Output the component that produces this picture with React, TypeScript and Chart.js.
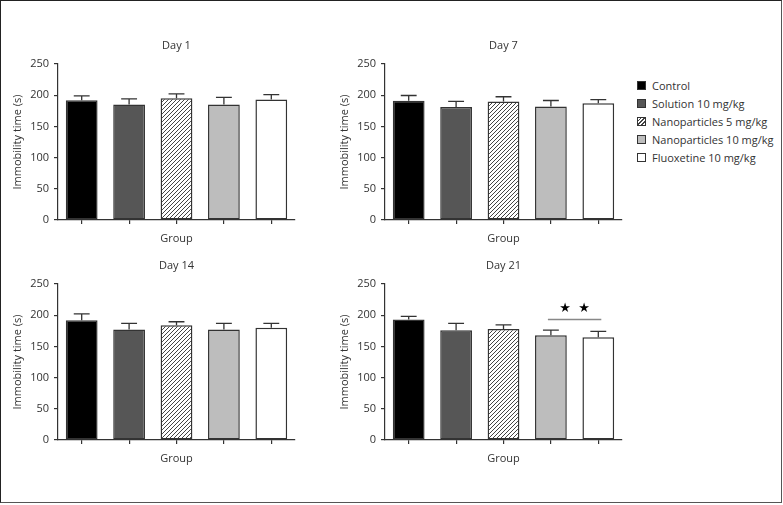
import React, { useEffect, useRef } from "react";
import { Chart, registerables } from "chart.js";

Chart.register(...registerables);

const groups = [
  "Control",
  "Solution 10 mg/kg",
  "Nanoparticles 5 mg/kg",
  "Nanoparticles 10 mg/kg",
  "Fluoxetine 10 mg/kg",
];

const yTicks = [0, 50, 100, 150, 200, 250];

const day1Means = [192, 185, 195, 185, 193];
const day1Err = [7, 9, 7, 11.5, 8];
const day7Means = [191, 181, 190, 182, 187];
const day7Err = [8.5, 9, 7.5, 9.5, 6];
const day14Means = [192, 177, 184, 177, 180];
const day14Err = [10, 10, 5.5, 10, 7];
const day21Means = [193, 176, 178, 168, 164.5];
const day21Err = [5, 11, 6.5, 8, 9.5];

// significance on Day 21 between groups index 3 and 4
const day21SigPair = [3, 4];
const day21SigLine = 193;
const day21SigStars = 211;

const FONT = "'Open Sans', 'Noto Sans', sans-serif";
const TEXT = "#333333";
const AXIS = "#333333";

function makeHatch(): CanvasPattern | string {
  const c = document.createElement("canvas");
  c.width = 4;
  c.height = 4;
  const g = c.getContext("2d");
  if (!g) return "#ffffff";
  g.fillStyle = "#ffffff";
  g.fillRect(0, 0, 4, 4);
  g.strokeStyle = "#444444";
  g.lineWidth = 1;
  g.beginPath();
  g.moveTo(0, 4);
  g.lineTo(4, 0);
  g.moveTo(-1, 1);
  g.lineTo(1, -1);
  g.moveTo(3, 5);
  g.lineTo(5, 3);
  g.stroke();
  const p = g.createPattern(c, "repeat");
  return p || "#ffffff";
}

type PanelProps = {
  title: string;
  means: number[];
  errs: number[];
  left: number;
  top: number;
  sig?: { pair: number[]; line: number; stars: number };
};

const CW = 310;
const CH = 222;

function Panel({ title, means, errs, left, top, sig }: PanelProps) {
  const ref = useRef<HTMLCanvasElement | null>(null);
  useEffect(() => {
    if (!ref.current) return;
    const hatch = makeHatch();
    const fills: any[] = ["#000000", "#565656", hatch, "#bdbdbd", "#ffffff"];

    const errorPlugin = {
      id: "errbars",
      afterDatasetsDraw(chart: any) {
        const ctx = chart.ctx;
        const meta = chart.getDatasetMeta(0);
        const ys = chart.scales.y;
        ctx.save();
        ctx.strokeStyle = AXIS;
        ctx.lineWidth = 1.3;
        meta.data.forEach((el: any, i: number) => {
          const yt = ys.getPixelForValue(means[i] + errs[i]);
          const yb = el.y;
          const hw = el.width / 4;
          ctx.beginPath();
          ctx.moveTo(el.x, yb);
          ctx.lineTo(el.x, yt);
          ctx.moveTo(el.x - hw, yt);
          ctx.lineTo(el.x + hw, yt);
          ctx.stroke();
        });
        if (sig) {
          const xs = chart.scales.x;
          const x1 = xs.getPixelForValue(sig.pair[0]) - 3;
          const x2 = xs.getPixelForValue(sig.pair[1]) + 3;
          const yl = ys.getPixelForValue(sig.line);
          ctx.strokeStyle = "#888888";
          ctx.lineWidth = 1.5;
          ctx.beginPath();
          ctx.moveTo(x1, yl);
          ctx.lineTo(x2, yl);
          ctx.stroke();
          const mid = (x1 + x2) / 2;
          const ysStar = ys.getPixelForValue(sig.stars);
          ctx.fillStyle = "#000000";
          ctx.font = "13px 'DejaVu Sans', sans-serif";
          ctx.textAlign = "center";
          ctx.textBaseline = "middle";
          ctx.fillText("\u2605", mid - 9.5, ysStar);
          ctx.fillText("\u2605", mid + 9.5, ysStar);
        }
        ctx.restore();
      },
      afterDraw(chart: any) {
        const ctx = chart.ctx;
        const a = chart.chartArea;
        ctx.save();
        ctx.fillStyle = TEXT;
        ctx.font = "11px " + FONT;
        ctx.textAlign = "center";
        ctx.textBaseline = "middle";
        ctx.fillText(title, (a.left + a.right) / 2, a.top - 18);
        ctx.restore();
      },
    };

    const chart = new Chart(ref.current, {
      type: "bar",
      data: {
        labels: groups,
        datasets: [
          {
            data: means,
            backgroundColor: fills,
            borderColor: AXIS,
            borderWidth: 1.5,
            borderSkipped: false,
            barPercentage: 0.67,
            categoryPercentage: 1,
          },
        ],
      },
      options: {
        responsive: false,
        animation: false,
        layout: { padding: { top: 36, right: 15, left: 0, bottom: 0 } },
        plugins: {
          legend: { display: false },
          tooltip: { enabled: false },
          title: { display: false },
        },
        scales: {
          x: {
            type: "category",
            grid: {
              display: true,
              drawOnChartArea: false,
              offset: false,
              tickLength: 4,
              color: AXIS,
              lineWidth: 1.2,
            },
            border: { display: true, color: AXIS, width: 1.2 },
            ticks: { display: false },
            title: {
              display: true,
              text: "Group",
              color: TEXT,
              font: { family: FONT, size: 11 },
              padding: { top: 0, bottom: 4.4 },
            },
            afterFit(scale: any) {
              scale.height = 30;
            },
          },
          y: {
            min: 0,
            max: 250,
            afterBuildTicks(scale: any) {
              scale.ticks = yTicks.map((v) => ({ value: v }));
            },
            grid: {
              display: true,
              drawOnChartArea: false,
              tickLength: 4,
              color: AXIS,
              lineWidth: 1.2,
            },
            border: { display: true, color: AXIS, width: 1.2 },
            ticks: {
              color: TEXT,
              font: { family: FONT, size: 11 },
              padding: 5,
            },
            title: {
              display: true,
              text: "Immobility time (s)",
              color: TEXT,
              font: { family: FONT, size: 11 },
              padding: { top: 11.4, bottom: 0 },
            },
            afterFit(scale: any) {
              scale.width = 58;
            },
          },
        },
      } as any,
      plugins: [errorPlugin],
    });
    return () => chart.destroy();
  }, []);
  return (
    <canvas
      ref={ref}
      width={CW}
      height={CH}
      style={{ position: "absolute", left, top, width: CW, height: CH }}
    />
  );
}

const legendFills = [
  "#000000",
  "#565656",
  "repeating-linear-gradient(135deg, #ffffff 0px, #ffffff 1.6px, #444444 1.6px, #444444 2.6px)",
  "#bdbdbd",
  "#ffffff",
];

export default function App() {
  return (
    <div
      style={{
        position: "fixed",
        left: 0,
        top: 0,
        width: 783,
        height: 505,
        background: "#ffffff",
        overflow: "hidden",
      }}
    >
      <div
        style={{
          position: "absolute",
          left: 0,
          top: 0,
          width: 782,
          height: 503,
          boxSizing: "border-box",
          borderTop: "1.5px solid #222",
          borderLeft: "1.5px solid #222",
          borderRight: "1px solid #555",
          borderBottom: "1px solid #555",
        }}
      />
      <Panel title="Day 1" means={day1Means} errs={day1Err} left={0} top={28} />
      <Panel title="Day 7" means={day7Means} errs={day7Err} left={327} top={28} />
      <Panel title="Day 14" means={day14Means} errs={day14Err} left={0} top={248} />
      <Panel
        title="Day 21"
        means={day21Means}
        errs={day21Err}
        left={327}
        top={248}
        sig={{ pair: day21SigPair, line: day21SigLine, stars: day21SigStars }}
      />
      <div style={{ position: "absolute", left: 637, top: 76 }}>
        {groups.map((g, i) => (
          <div
            key={g}
            style={{
              display: "flex",
              alignItems: "center",
              height: 18,
              fontFamily: FONT,
              fontSize: 11,
              color: TEXT,
              whiteSpace: "nowrap",
            }}
          >
            <span
              style={{
                display: "inline-block",
                width: 9,
                height: 9,
                boxSizing: "border-box",
                border: "1px solid #333",
                background: legendFills[i],
                marginRight: 6,
              }}
            />
            <span>{g}</span>
          </div>
        ))}
      </div>
    </div>
  );
}
